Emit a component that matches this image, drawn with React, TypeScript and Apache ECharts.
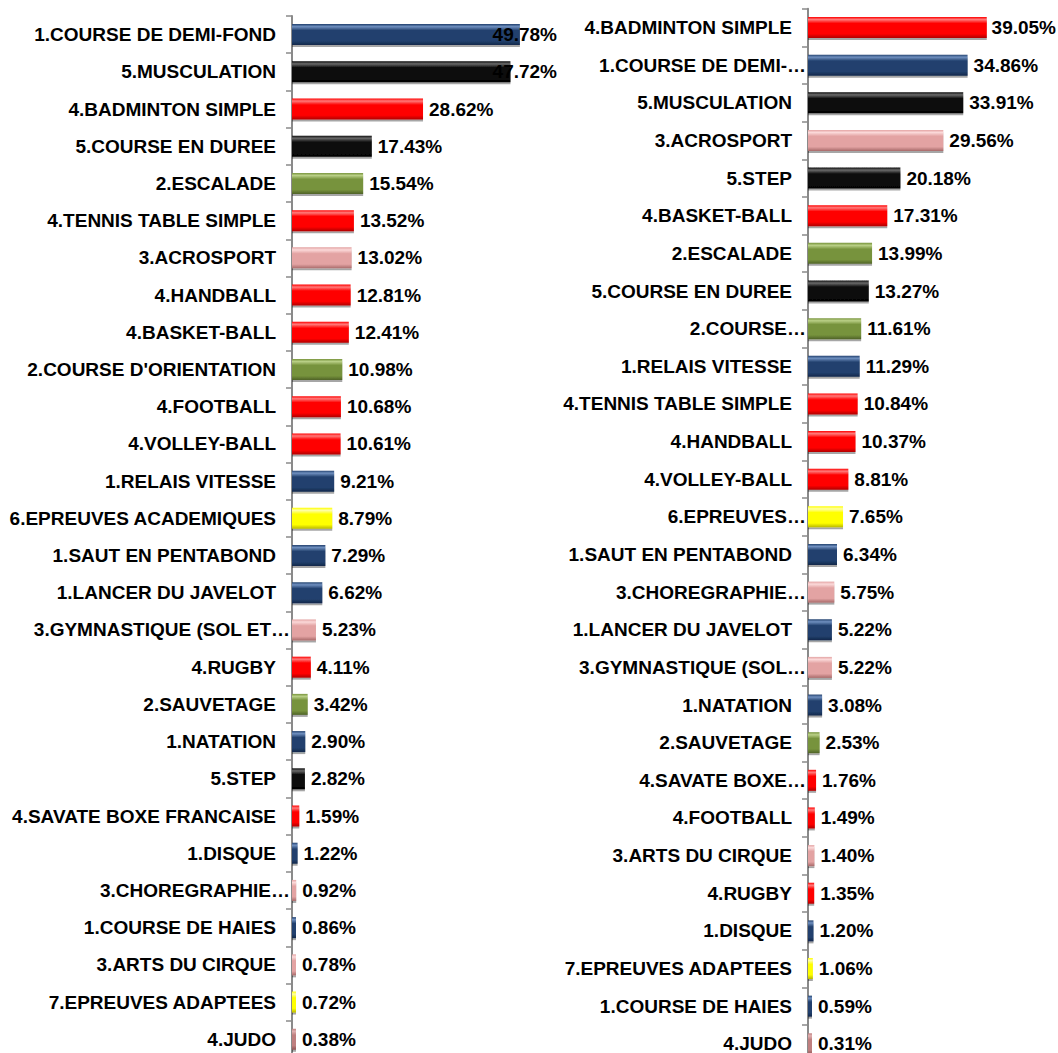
import React, { useEffect, useRef } from "react";
import * as echarts from "echarts";

const leftCategories = [
  "1.COURSE DE DEMI-FOND",
  "5.MUSCULATION",
  "4.BADMINTON SIMPLE",
  "5.COURSE EN DUREE",
  "2.ESCALADE",
  "4.TENNIS TABLE SIMPLE",
  "3.ACROSPORT",
  "4.HANDBALL",
  "4.BASKET-BALL",
  "2.COURSE D'ORIENTATION",
  "4.FOOTBALL",
  "4.VOLLEY-BALL",
  "1.RELAIS VITESSE",
  "6.EPREUVES ACADEMIQUES",
  "1.SAUT EN PENTABOND",
  "1.LANCER DU JAVELOT",
  "3.GYMNASTIQUE (SOL ET…",
  "4.RUGBY",
  "2.SAUVETAGE",
  "1.NATATION",
  "5.STEP",
  "4.SAVATE BOXE FRANCAISE",
  "1.DISQUE",
  "3.CHOREGRAPHIE…",
  "1.COURSE DE HAIES",
  "3.ARTS DU CIRQUE",
  "7.EPREUVES ADAPTEES",
  "4.JUDO",
];
const leftValues = [
  49.78, 47.72, 28.62, 17.43, 15.54, 13.52, 13.02, 12.81, 12.41, 10.98, 10.68,
  10.61, 9.21, 8.79, 7.29, 6.62, 5.23, 4.11, 3.42, 2.9, 2.82, 1.59, 1.22, 0.92,
  0.86, 0.78, 0.72, 0.38,
];

const rightCategories = [
  "4.BADMINTON SIMPLE",
  "1.COURSE DE DEMI-…",
  "5.MUSCULATION",
  "3.ACROSPORT",
  "5.STEP",
  "4.BASKET-BALL",
  "2.ESCALADE",
  "5.COURSE EN DUREE",
  "2.COURSE…",
  "1.RELAIS VITESSE",
  "4.TENNIS TABLE SIMPLE",
  "4.HANDBALL",
  "4.VOLLEY-BALL",
  "6.EPREUVES…",
  "1.SAUT EN PENTABOND",
  "3.CHOREGRAPHIE…",
  "1.LANCER DU JAVELOT",
  "3.GYMNASTIQUE (SOL…",
  "1.NATATION",
  "2.SAUVETAGE",
  "4.SAVATE BOXE…",
  "4.FOOTBALL",
  "3.ARTS DU CIRQUE",
  "4.RUGBY",
  "1.DISQUE",
  "7.EPREUVES ADAPTEES",
  "1.COURSE DE HAIES",
  "4.JUDO",
];
const rightValues = [
  39.05, 34.86, 33.91, 29.56, 20.18, 17.31, 13.99, 13.27, 11.61, 11.29, 10.84,
  10.37, 8.81, 7.65, 6.34, 5.75, 5.22, 5.22, 3.08, 2.53, 1.76, 1.49, 1.4, 1.35,
  1.2, 1.06, 0.59, 0.31,
];

const FONT = "'Liberation Sans Narrow', 'Arial Narrow', 'Liberation Sans', Arial, sans-serif";
const FONT_SIZE = 19;

// colour by the activity group prefix
const palette: Record<string, [string, string, string]> = {
  "1": ["#6f8fbf", "#22416e", "#12274a"],
  "2": ["#b9cf86", "#77933c", "#4f6228"],
  "3": ["#fbd9d9", "#e3a3a3", "#a86a6a"],
  "4": ["#ff7a7a", "#ff0000", "#b00000"],
  "5": ["#6a6a6a", "#0d0d0d", "#000000"],
  "6": ["#ffffa8", "#ffff00", "#b8b800"],
  "7": ["#ffffa8", "#ffff00", "#b8b800"],
  judo: ["#e0b0b0", "#bf7f7f", "#8f5555"],
};

function barColor(cat: string) {
  const key = cat === "4.JUDO" ? "judo" : cat.charAt(0);
  const [light, base, dark] = palette[key] || palette["1"];
  return new echarts.graphic.LinearGradient(0, 0, 0, 1, [
    { offset: 0, color: base },
    { offset: 0.12, color: light },
    { offset: 0.3, color: base },
    { offset: 0.8, color: base },
    { offset: 1, color: dark },
  ]);
}

const PX_PER_UNIT = 4.578;

export default function App() {
  const ref = useRef<HTMLDivElement>(null);
  useEffect(() => {
    if (!ref.current) return;
    const chart = echarts.init(ref.current, null, { renderer: "svg" });

    const panels = [
      { cats: leftCategories, vals: leftValues, left: 292, top: 16, band: 37.21, width: 265 },
      { cats: rightCategories, vals: rightValues, left: 808, top: 8.7, band: 37.64, width: 248 },
    ];

    const catLabel = {
      margin: 2,
      color: "#000",
      formatter: (v: string) => (v.endsWith("…") ? `{t|${v}}` : `{t|${v}}{g| }`),
      rich: {
        t: { fontFamily: FONT, fontWeight: "bold", fontSize: FONT_SIZE, color: "#000" },
        g: { width: 14, fontSize: FONT_SIZE },
      },
    };

    chart.setOption({
      animation: false,
      backgroundColor: "#fff",
      grid: panels.map((p) => ({
        left: p.left,
        top: p.top,
        width: p.width,
        height: p.band * p.cats.length,
        containLabel: false,
        outerBoundsMode: "none",
      })),
      xAxis: panels.map((p, i) => ({
        type: "value",
        gridIndex: i,
        min: 0,
        max: p.width / PX_PER_UNIT,
        show: false,
        splitLine: { show: false },
      })),
      yAxis: panels.map((p, i) => ({
        type: "category",
        gridIndex: i,
        inverse: true,
        data: p.cats,
        axisLine: { show: true, lineStyle: { color: "#8a8a8a", width: 2 } },
        axisTick: { show: true, length: 6, lineStyle: { color: "#8a8a8a", width: 1.5 } },
        axisLabel: catLabel,
        splitLine: { show: false },
      })),
      series: panels.map((p, i) => {
        const limit = p.left + p.width;
        return {
          type: "bar",
          xAxisIndex: i,
          yAxisIndex: i,
          barWidth: 21,
          barMinHeight: 4,
          data: p.vals.map((v, k) => ({
            value: v,
            itemStyle: {
              color: barColor(p.cats[k]),
              shadowColor: "rgba(0,0,0,0.35)",
              shadowOffsetY: 2,
              shadowBlur: 1,
            },
          })),
          label: {
            show: true,
            position: "right",
            distance: 6,
            formatter: (pr: any) => `${Number(pr.value).toFixed(2)}%`,
            fontFamily: FONT,
            fontWeight: "bold",
            fontSize: FONT_SIZE,
            color: "#000",
          },
          labelLayout: (params: any) => {
            const r = params.labelRect;
            if (r && r.x + r.width > limit) {
              return { dx: limit - (r.x + r.width) };
            }
            return {};
          },
        };
      }),
    });
    return () => chart.dispose();
  }, []);

  return (
    <div
      ref={ref}
      style={{ position: "absolute", left: 0, top: 0, width: 1058, height: 1053 }}
    />
  );
}
